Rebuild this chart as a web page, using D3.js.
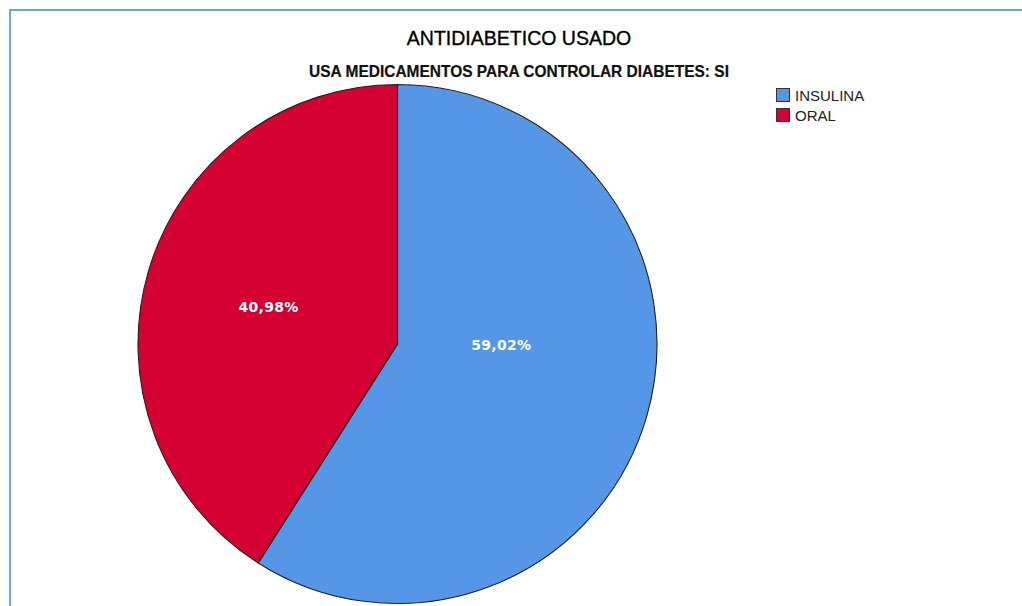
<!DOCTYPE html>
<html>
<head>
<meta charset="utf-8">
<script src="https://cdn.jsdelivr.net/npm/d3@7/dist/d3.min.js"></script>
<style>
  html, body { margin: 0; padding: 0; background: #fff; }
  svg { display: block; }
</style>
</head>
<body>
<svg id="chart" width="1022" height="606"></svg>
<script>
// Data
const categories = ["INSULINA", "ORAL"];
const percents = [59.02, 40.98];
const colors = ["#5597e6", "#d50032"];
// Label anchor per slice: angle (degrees, clockwise from 12 o'clock) and radius fraction
const labelAngles = [90.5, 286];
const labelRadii = [0.40, 0.517];

const title = "ANTIDIABETICO USADO";
const subtitle = "USA MEDICAMENTOS PARA CONTROLAR DIABETES: SI";

const W = 1022, H = 606;
const cx = 397.5, cy = 344, R = 259.5;

const svg = d3.select("#chart");

// Outer frame (runs off the right and bottom edges)
svg.append("path")
  .attr("d", `M10,${H + 5} L10,10 L${W + 5},10`)
  .attr("fill", "none")
  .attr("stroke", "#6fa4dc")
  .attr("stroke-width", 2);

// Titles
svg.append("text")
  .attr("x", 519).attr("y", 45)
  .attr("text-anchor", "middle")
  .attr("font-family", "Liberation Sans, Arial, sans-serif")
  .attr("font-size", 19.5)
  .attr("fill", "#000")
  .attr("stroke", "#000")
  .attr("stroke-width", 0.35)
  .text(title);

// Subtitle: slightly stretched vertically for the condensed look
svg.append("text")
  .attr("transform", "translate(519,77) scale(1,1.1)")
  .attr("text-anchor", "middle")
  .attr("font-family", "Liberation Sans, Arial, sans-serif")
  .attr("font-weight", "bold")
  .attr("font-size", 15.5)
  .attr("fill", "#111")
  .attr("stroke", "#111")
  .attr("stroke-width", 0.2)
  .text(subtitle);

// Pie
const data = categories.map((c, i) => ({ cat: c, value: percents[i], color: colors[i], i }));
const pie = d3.pie().value(d => d.value).sort(null);
const arc = d3.arc().innerRadius(0).outerRadius(R);

const g = svg.append("g").attr("transform", `translate(${cx},${cy})`);
const arcs = pie(data);

g.selectAll("path.slice")
  .data(arcs)
  .enter().append("path")
  .attr("class", "slice")
  .attr("d", arc)
  .attr("fill", d => d.data.color)
  .attr("stroke", "#222")
  .attr("stroke-width", 1.1)
  .attr("stroke-linejoin", "round");

// Percentage labels
const fmt = v => v.toFixed(2).replace(".", ",") + "%";
g.selectAll("text.lbl")
  .data(arcs)
  .enter().append("text")
  .attr("class", "lbl")
  .attr("x", d => Math.sin(labelAngles[d.data.i] * Math.PI / 180) * R * labelRadii[d.data.i])
  .attr("y", d => -Math.cos(labelAngles[d.data.i] * Math.PI / 180) * R * labelRadii[d.data.i])
  .attr("dy", "0.36em")
  .attr("text-anchor", "middle")
  .attr("font-family", "DejaVu Sans, Verdana, sans-serif")
  .attr("font-weight", "bold")
  .attr("font-size", 14)
  .attr("letter-spacing", 0.3)
  .attr("fill", "#fff")
  .text(d => fmt(d.data.value));

// Legend
const legend = svg.append("g").attr("transform", "translate(776,88)");
const items = legend.selectAll("g.item")
  .data(data)
  .enter().append("g")
  .attr("class", "item")
  .attr("transform", (d, i) => `translate(0,${i * 20})`);

items.append("rect")
  .attr("x", 0.5).attr("y", 0.5)
  .attr("width", 13).attr("height", 13)
  .attr("fill", d => d.color)
  .attr("stroke", "#333")
  .attr("stroke-width", 1);

items.append("text")
  .attr("x", 19).attr("y", 13)
  .attr("font-family", "Liberation Sans, Arial, sans-serif")
  .attr("font-size", 15)
  .attr("fill", "#222")
  .text(d => d.cat);
</script>
</body>
</html>
